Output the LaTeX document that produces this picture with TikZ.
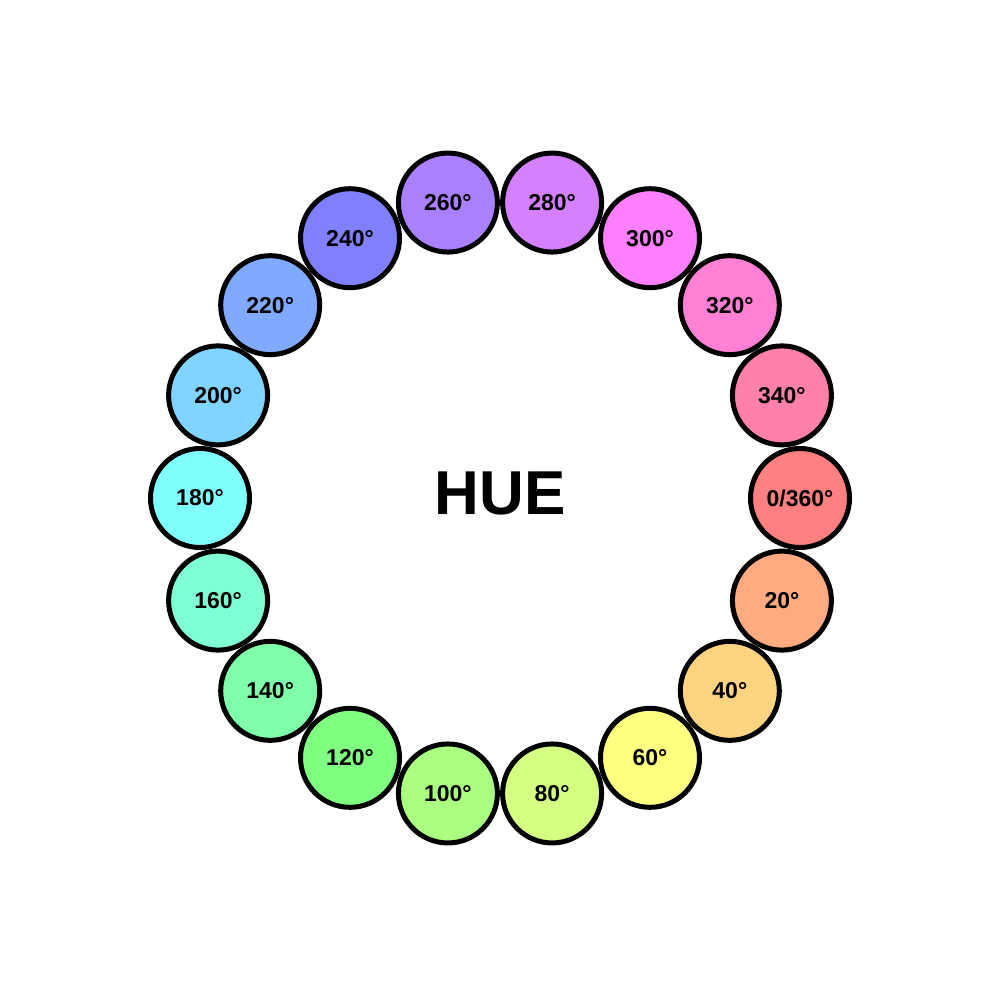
\documentclass[tikz,border=0pt]{standalone}
\usepackage{fontspec}
\setmainfont{Liberation Sans}
\begin{document}
\begin{tikzpicture}[x=1pt,y=-1pt,
  huenode/.style={circle, draw=black, line width=5pt, minimum size=99pt, inner sep=0pt,
    font=\fontsize{23}{23}\selectfont\bfseries},
  titlestyle/.style={font=\fontsize{62}{62}\selectfont\bfseries}]
\useasboundingbox (0,0) rectangle (1000,1000);
\node[titlestyle] (title) at (500,493) {HUE};
\foreach \h/\r/\g/\b in {0/1/.5/.5, 20/1/.667/.5, 40/1/.833/.5, 60/1/1/.5,
    80/.833/1/.5, 100/.667/1/.5, 120/.5/1/.5, 140/.5/1/.667, 160/.5/1/.833,
    180/.5/1/1, 200/.5/.833/1, 220/.5/.667/1, 240/.5/.5/1, 260/.667/.5/1,
    280/.833/.5/1, 300/1/.5/1, 320/1/.5/.833, 340/1/.5/.667}{
  \definecolor{hc\h}{rgb}{\r,\g,\b}
  \node[huenode, fill=hc\h] (n\h) at ({500+300*cos(\h)},{498+300*sin(\h)})
    {\ifnum\h=0 0/360°\else\h°\fi};
}
\end{tikzpicture}
\end{document}
